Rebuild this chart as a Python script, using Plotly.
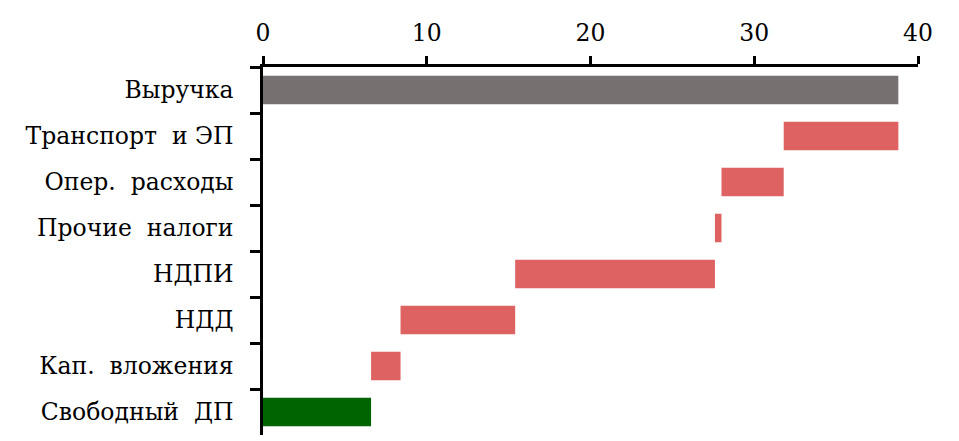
import plotly.graph_objects as go

categories = [
    "Выручка",
    "Транспорт  и ЭП",
    "Опер.  расходы",
    "Прочие  налоги",
    "НДПИ",
    "НДД",
    "Кап.  вложения",
    "Свободный  ДП",
]
# revenue first, then the deductions, free cash flow as the total
values = [38.8, -7.0, -3.8, -0.4, -12.2, -7.0, -1.8, 0]
measures = ["relative"] * 7 + ["total"]
x_ticks = [0, 10, 20, 30, 40]

FONT = "DejaVu Serif"

fig = go.Figure(
    go.Waterfall(
        orientation="h",
        y=categories,
        x=values,
        measure=measures,
        increasing={"marker": {"color": "#767170"}},
        decreasing={"marker": {"color": "#de6262"}},
        totals={"marker": {"color": "#006400"}},
        connector={"visible": False},
        hoverinfo="skip",
    )
)

# the page body adds an 8px offset, margins are chosen with that in mind
fig.update_layout(
    width=959,
    height=441,
    paper_bgcolor="white",
    plot_bgcolor="white",
    margin={"l": 255, "r": 49, "t": 59, "b": 14},
    waterfallgap=0.38,
    showlegend=False,
    font={"family": FONT, "size": 23.5, "color": "black"},
    xaxis={
        "side": "top",
        "range": [0, 40],
        "tickvals": x_ticks,
        "showgrid": False,
        "zeroline": False,
        "showline": True,
        "linecolor": "black",
        "linewidth": 2.5,
        "ticks": "outside",
        "ticklen": 8,
        "tickwidth": 2.5,
        "tickcolor": "black",
        "ticklabelstandoff": 6,
        "automargin": False,
    },
    yaxis={
        "autorange": "reversed",
        "showgrid": False,
        "zeroline": False,
        "showline": True,
        "linecolor": "black",
        "linewidth": 2.5,
        "ticks": "outside",
        "tickson": "boundaries",
        "ticklen": 10,
        "tickwidth": 2.5,
        "tickcolor": "black",
        "ticklabelstandoff": 22,
        "automargin": False,
    },
)

fig.write_html("out.html")
